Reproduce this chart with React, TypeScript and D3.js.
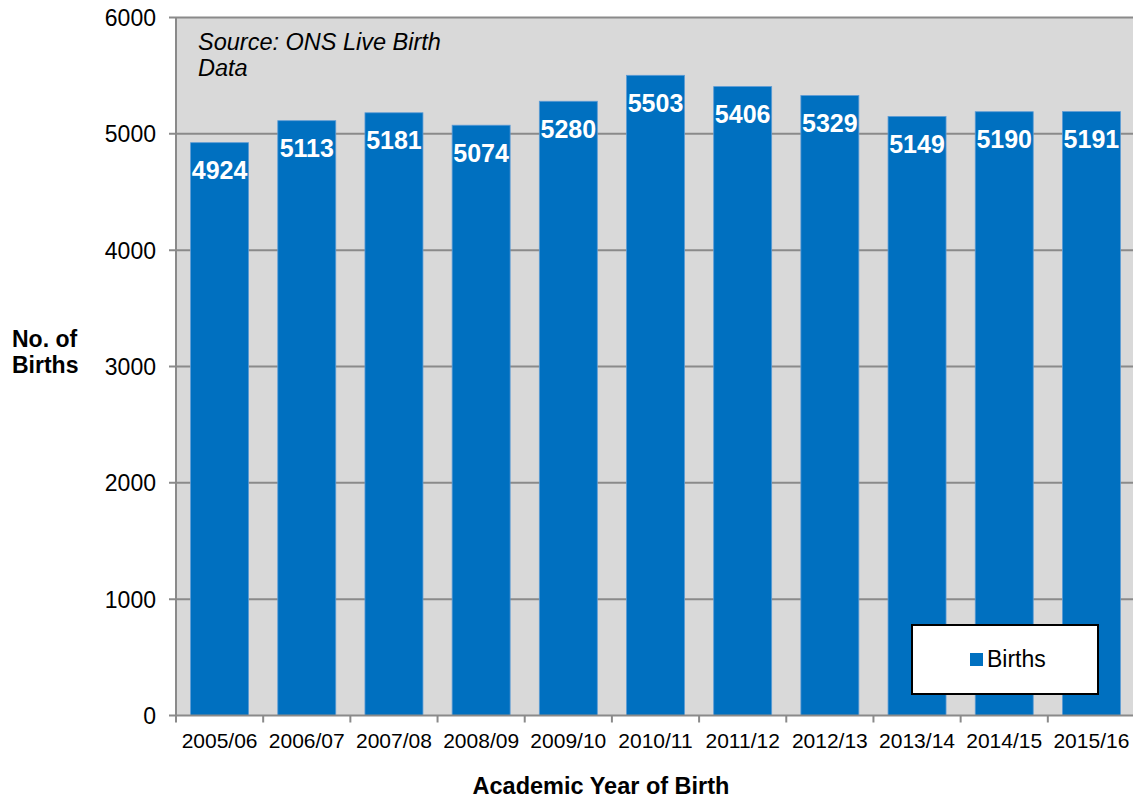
import React, { useEffect, useRef } from 'react'
import * as d3 from 'd3'

const years = ['2005/06', '2006/07', '2007/08', '2008/09', '2009/10', '2010/11', '2011/12', '2012/13', '2013/14', '2014/15', '2015/16']
const births = [4924, 5113, 5181, 5074, 5280, 5503, 5406, 5329, 5149, 5190, 5191]
const yTicks = [0, 1000, 2000, 3000, 4000, 5000, 6000]

const FONT = '"Liberation Sans", Arial, sans-serif'

const App: React.FC = () => {
    const svgRef = useRef<SVGSVGElement>(null)
    const width = 1133
    const height = 798

    useEffect(() => {
        if (!svgRef.current) return
        const svg = d3.select(svgRef.current)
        svg.selectAll('*').remove()

        const left = 176, right = 1135, top = 17.5, bottom = 715.5

        const x = d3.scaleBand<string>()
            .domain(years)
            .range([left, right])
            .paddingInner(0.335)
            .paddingOuter(0.1675)
        const y = d3.scaleLinear().domain([0, 6000]).range([bottom, top])

        // plot background
        svg.append('rect')
            .attr('x', left).attr('y', top)
            .attr('width', right - left).attr('height', bottom - top)
            .style('fill', '#d9d9d9')

        // gridlines
        svg.append('g').selectAll('line')
            .data(yTicks.filter(t => t > 0))
            .enter().append('line')
            .attr('x1', left - 7).attr('x2', right)
            .attr('y1', d => y(d)).attr('y2', d => y(d))
            .style('stroke', '#8a8a8a')
            .style('stroke-width', 2)

        // bars
        svg.append('g').selectAll('rect')
            .data(births)
            .enter().append('rect')
            .attr('x', (d, i) => x(years[i])!)
            .attr('width', x.bandwidth())
            .attr('y', d => y(d))
            .attr('height', d => bottom - y(d))
            .style('fill', '#0070c0')
            .style('stroke', '#5b9bd5')
            .style('stroke-width', 0.8)

        // bar labels
        svg.append('g').selectAll('text')
            .data(births)
            .enter().append('text')
            .attr('x', (d, i) => x(years[i])! + x.bandwidth() / 2)
            .attr('y', d => y(d) + 36.5)
            .attr('text-anchor', 'middle')
            .style('font-family', FONT)
            .style('font-weight', 'bold')
            .style('font-size', '25px')
            .style('fill', '#ffffff')
            .text(d => String(d))

        // axes lines
        svg.append('line')
            .attr('x1', left).attr('x2', left)
            .attr('y1', top).attr('y2', bottom)
            .style('stroke', '#8a8a8a').style('stroke-width', 2)
        svg.append('line')
            .attr('x1', left - 7).attr('x2', right)
            .attr('y1', bottom).attr('y2', bottom)
            .style('stroke', '#8a8a8a').style('stroke-width', 2)

        // x ticks at category boundaries
        const step = x.step()
        svg.append('g').selectAll('line')
            .data(d3.range(years.length + 1))
            .enter().append('line')
            .attr('x1', i => left + i * step).attr('x2', i => left + i * step)
            .attr('y1', bottom).attr('y2', bottom + 7)
            .style('stroke', '#8a8a8a').style('stroke-width', 2)

        // y tick labels
        svg.append('g').selectAll('text')
            .data(yTicks)
            .enter().append('text')
            .attr('x', 156)
            .attr('y', d => y(d) + 8.5)
            .attr('text-anchor', 'end')
            .style('font-family', FONT)
            .style('font-size', '23px')
            .style('fill', '#000')
            .text(d => String(d))

        // x tick labels
        svg.append('g').selectAll('text')
            .data(years)
            .enter().append('text')
            .attr('x', d => x(d)! + x.bandwidth() / 2)
            .attr('y', 748)
            .attr('text-anchor', 'middle')
            .style('font-family', FONT)
            .style('font-size', '21px')
            .style('fill', '#000')
            .text(d => d)

        // axis titles
        const yTitle = svg.append('text')
            .attr('x', 12)
            .style('font-family', FONT)
            .style('font-weight', 'bold')
            .style('font-size', '23px')
        yTitle.append('tspan').attr('x', 12).attr('y', 347).text('No. of')
        yTitle.append('tspan').attr('x', 12).attr('y', 373).text('Births')

        svg.append('text')
            .attr('x', 601).attr('y', 794)
            .attr('text-anchor', 'middle')
            .style('font-family', FONT)
            .style('font-weight', 'bold')
            .style('font-size', '23.5px')
            .text('Academic Year of Birth')

        // source note
        const note = svg.append('text')
            .style('font-family', FONT)
            .style('font-style', 'italic')
            .style('font-size', '23.5px')
        note.append('tspan').attr('x', 198).attr('y', 50).text('Source: ONS Live Birth')
        note.append('tspan').attr('x', 198).attr('y', 76).text('Data')

        // legend
        const lg = svg.append('g')
        lg.append('rect')
            .attr('x', 912).attr('y', 625)
            .attr('width', 186).attr('height', 69)
            .style('fill', '#fff').style('stroke', '#000').style('stroke-width', 2)
        lg.append('rect')
            .attr('x', 970).attr('y', 653)
            .attr('width', 13).attr('height', 13)
            .style('fill', '#0070c0')
        lg.append('text')
            .attr('x', 987).attr('y', 667)
            .style('font-family', FONT)
            .style('font-size', '23px')
            .text('Births')
    }, [])

    return <svg ref={svgRef} width={width} height={height} style={{ position: 'absolute', left: 0, top: 0, background: '#fff' }} />
}

export default App
